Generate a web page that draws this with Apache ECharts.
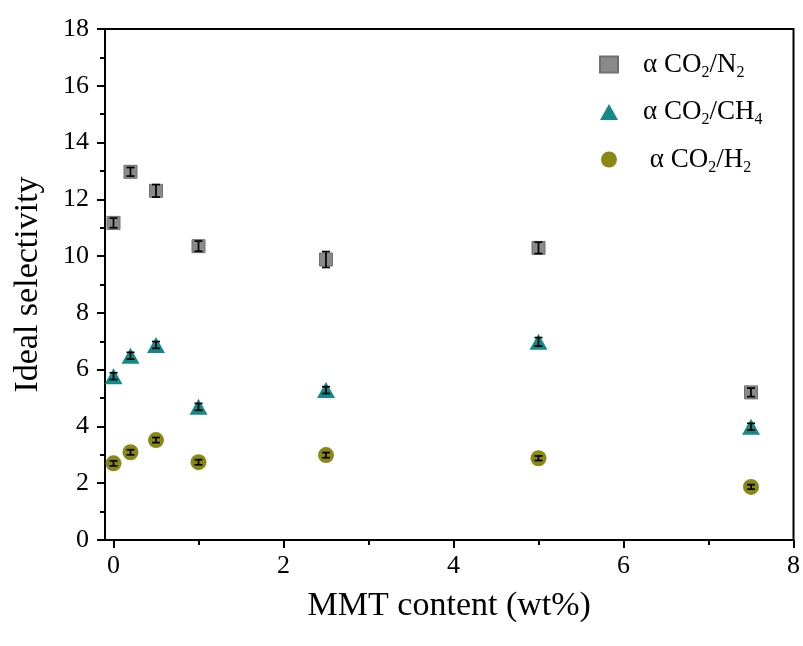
<!DOCTYPE html>
<html>
<head>
<meta charset="utf-8">
<script src="https://cdn.jsdelivr.net/npm/echarts@6/dist/echarts.min.js"></script>
<style>
  html, body { margin: 0; padding: 0; background: #fff; }
  #main { width: 803px; height: 646px; }
</style>
</head>
<body>
<div id="main"></div>
<script>
// MMT loading (wt%)
var mmt = [0, 0.2, 0.5, 1, 2.5, 5, 7.5];
// ideal selectivity values
var selN2  = [11.17, 12.97, 12.3, 10.35, 9.88, 10.29, 5.2];
var errN2  = [0.17, 0.15, 0.22, 0.18, 0.28, 0.2, 0.15];
var selCH4 = [5.77, 6.49, 6.87, 4.69, 5.28, 6.98, 3.99];
var errCH4 = [0.12, 0.12, 0.12, 0.12, 0.12, 0.15, 0.12];
var selH2  = [2.7, 3.09, 3.52, 2.74, 2.99, 2.88, 1.87];
var errH2  = [0.09, 0.09, 0.09, 0.09, 0.09, 0.08, 0.08];
var xTicks = [0, 2, 4, 6, 8];
var xMinor = [1, 3, 5, 7];

var FONT = 'Liberation Serif';
var myChart = echarts.init(document.getElementById('main'));

function pts(xs, ys) {
  return xs.map(function (x, i) { return [x, ys[i]]; });
}
function errData(xs, ys, es) {
  return xs.map(function (x, i) { return [x, ys[i] - es[i], ys[i] + es[i]]; });
}
// 误差棒
function renderErr(params, api) {
  var lo = api.coord([api.value(0), api.value(1)]);
  var hi = api.coord([api.value(0), api.value(2)]);
  var w = 4;
  var st = { stroke: '#000', lineWidth: 1.7 };
  return {
    type: 'group',
    children: [
      { type: 'line', shape: { x1: lo[0], y1: lo[1], x2: hi[0], y2: hi[1] }, style: st },
      { type: 'line', shape: { x1: lo[0] - w, y1: lo[1], x2: lo[0] + w, y2: lo[1] }, style: st },
      { type: 'line', shape: { x1: hi[0] - w, y1: hi[1], x2: hi[0] + w, y2: hi[1] }, style: st }
    ]
  };
}

var labels = {
  'N2': '{t|α CO}{s|2}{t|/N}{s|2}',
  'CH4': '{t|α CO}{s|2}{t|/CH}{s|4}',
  'H2': '{t| α CO}{s|2}{t|/H}{s|2}'
};

option = {
  animation: false,
  grid: {
    left: 105, right: 7, top: 29, bottom: 106,
    show: true, borderColor: '#000', borderWidth: 2
  },
  legend: {
    orient: 'vertical',
    left: 594, top: 46,
    itemWidth: 18, itemHeight: 16,
    itemGap: 18,
    data: ['N2', 'CH4', 'H2'],
    formatter: function (name) { return labels[name]; },
    textStyle: {
      padding: [0, 0, 0, 20],
      rich: {
        t: { fontFamily: FONT, fontSize: 27, color: '#000' },
        s: { fontFamily: FONT, fontSize: 16, color: '#000', padding: [16, 0, 0, 0] }
      }
    }
  },
  xAxis: [{
    type: 'value',
    min: -0.1, max: 8,
    name: 'MMT content (wt%)',
    nameLocation: 'middle',
    nameGap: 49,
    nameTextStyle: { fontFamily: FONT, fontSize: 34, color: '#000' },
    axisLine: { onZero: false, lineStyle: { color: '#000', width: 2 } },
    axisTick: { customValues: xTicks, length: 8, lineStyle: { width: 2, color: '#000' } },
    axisLabel: { customValues: xTicks, fontFamily: FONT, fontSize: 26, color: '#000', margin: 13 },
    splitLine: { show: false }
  }, {
    type: 'value',
    position: 'bottom',
    min: -0.1, max: 8,
    axisLine: { show: false, onZero: false },
    axisTick: { customValues: xMinor, length: 5, lineStyle: { width: 2, color: '#000' } },
    axisLabel: { show: false },
    splitLine: { show: false }
  }],
  yAxis: {
    type: 'value',
    min: 0, max: 18, interval: 2,
    name: 'Ideal selectivity',
    nameLocation: 'middle',
    nameGap: 60,
    nameTextStyle: { fontFamily: FONT, fontSize: 34, color: '#000' },
    axisLine: { show: true, onZero: false, lineStyle: { color: '#000', width: 2 } },
    axisTick: { length: 8, lineStyle: { width: 2, color: '#000' } },
    minorTick: { show: true, splitNumber: 2, length: 5, lineStyle: { width: 2, color: '#000' } },
    axisLabel: { fontFamily: FONT, fontSize: 26, color: '#000', margin: 16 },
    splitLine: { show: false }
  },
  series: [{
    name: 'N2', type: 'scatter', symbol: 'rect', symbolSize: 13,
    itemStyle: { color: '#8a8a8a', borderColor: '#707070', borderWidth: 1, opacity: 1 },
    data: pts(mmt, selN2), z: 2
  }, {
    name: 'CH4', type: 'scatter', symbol: 'triangle', symbolSize: [18, 16],
    itemStyle: { color: '#158888', opacity: 1 },
    data: pts(mmt, selCH4), z: 2
  }, {
    name: 'H2', type: 'scatter', symbol: 'circle', symbolSize: 16,
    itemStyle: { color: '#8a8814', opacity: 1 },
    data: pts(mmt, selH2), z: 2
  }, {
    type: 'custom', renderItem: renderErr, data: errData(mmt, selN2, errN2), z: 5
  }, {
    type: 'custom', renderItem: renderErr, data: errData(mmt, selCH4, errCH4), z: 5
  }, {
    type: 'custom', renderItem: renderErr, data: errData(mmt, selH2, errH2), z: 5
  }]
};
myChart.setOption(option);
</script>
</body>
</html>
